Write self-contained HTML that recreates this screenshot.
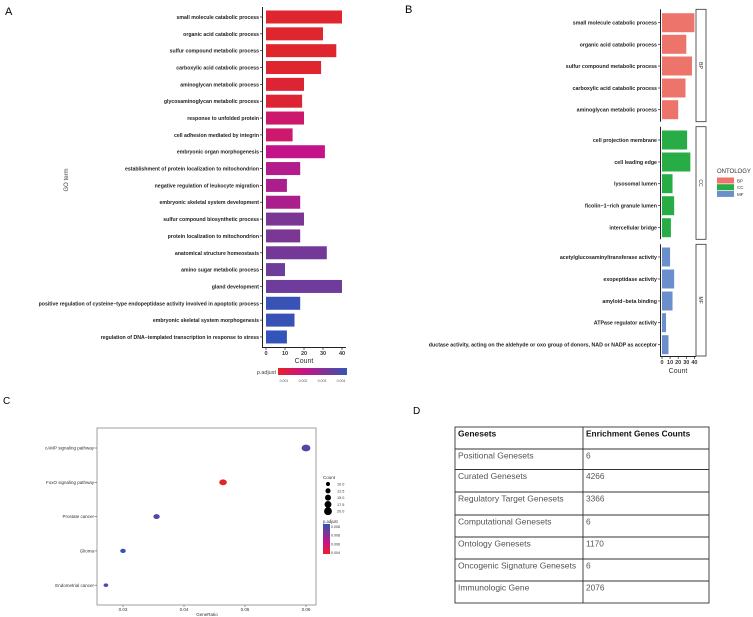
<!DOCTYPE html>
<html><head><meta charset="utf-8"><style>
html,body{margin:0;padding:0;background:#fff;}
svg{display:block;font-family:"Liberation Sans",Arial,sans-serif;}
</style></head><body>
<svg id="fig" width="753" height="617" viewBox="0 0 753 617" xmlns="http://www.w3.org/2000/svg">
<defs>
<linearGradient id="gradA" x1="0" x2="1" y1="0" y2="0"><stop offset="0" stop-color="#e8212a"/><stop offset="0.4" stop-color="#c4138a"/><stop offset="0.7" stop-color="#7a3794"/><stop offset="1" stop-color="#3354b8"/></linearGradient>
<linearGradient id="gradC" x1="0" x2="0" y1="1" y2="0"><stop offset="0" stop-color="#e8212a"/><stop offset="0.4" stop-color="#c4138a"/><stop offset="0.7" stop-color="#7a3794"/><stop offset="1" stop-color="#3354b8"/></linearGradient>
</defs>
<g id="pA"></g>
<g id="pB"></g>
<g id="pC"></g>
<g id="pD"></g>
</svg>
<script>
const aTerms=["small molecule catabolic process","organic acid catabolic process","sulfur compound metabolic process","carboxylic acid catabolic process","aminoglycan metabolic process","glycosaminoglycan metabolic process","response to unfolded protein","cell adhesion mediated by integrin","embryonic organ morphogenesis","establishment of protein localization to mitochondrion","negative regulation of leukocyte migration","embryonic skeletal system development","sulfur compound biosynthetic process","protein localization to mitochondrion","anatomical structure homeostasis","amino sugar metabolic process","gland development","positive regulation of cysteine\u2212type endopeptidase activity involved in apoptotic process","embryonic skeletal system morphogenesis","regulation of DNA\u2212templated transcription in response to stress"];
const aCounts=[40,30,37,29,20,19,20,14,31,18,11,18,20,18,32,10,40,18,15,11];
const aPadj=[0.0001,0.0001,0.0001,0.0001,0.0002,0.0002,0.0011,0.0011,0.0016,0.0019,0.002,0.002,0.0028,0.0028,0.0029,0.003,0.003,0.0039,0.0039,0.004];
const aTicks=[0,10,20,30,40];
const aCbLabels=["0.001","0.002","0.003","0.004"];

const bTerms=["small molecule catabolic process","organic acid catabolic process","sulfur compound metabolic process","carboxylic acid catabolic process","aminoglycan metabolic process","cell projection membrane","cell leading edge","lysosomal lumen","ficolin\u22121\u2212rich granule lumen","intercellular bridge","acetylglucosaminyltransferase activity","exopeptidase activity","amyloid\u2212beta binding","ATPase regulator activity","ductase activity, acting on the aldehyde or oxo group of donors, NAD or NADP as acceptor"];
const bCounts=[40,30,37,29,20,31,35,13,15,11,10,15,13,5,8];
const bGroup=["BP","BP","BP","BP","BP","CC","CC","CC","CC","CC","MF","MF","MF","MF","MF"];
const bTicks=[0,10,20,30,40];

const cTerms=["cAMP signaling pathway","FoxO signaling pathway","Prostate cancer","Glioma","Endometrial cancer"];
const cRatio=[0.06,0.0464,0.0355,0.030,0.0272];
const cCount=[20,17,14,12,10];
const cPadj=[0.0078,0.0035,0.0078,0.0085,0.0080];
const cTicks=[0.03,0.04,0.05,0.06];
const cTickLabels=["0.03","0.04","0.05","0.06"];
const cSizeLegend=[10,12.5,15,17.5,20];
const cPLegend=["0.008","0.008","0.006","0.004"];

const dHeader=["Genesets","Enrichment Genes Counts"];
const dNames=["Positional Genesets","Curated Genesets","Regulatory Target Genesets","Computational Genesets","Ontology Genesets","Oncogenic Signature Genesets","Immunologic Gene"];
const dValues=["6","4266","3366","6","1170","6","2076"];

const NS="http://www.w3.org/2000/svg";
function mk(p,tag,at,txt){const e=document.createElementNS(NS,tag);for(const k in at)e.setAttribute(k,at[k]);if(txt!==undefined)e.textContent=txt;p.appendChild(e);return e;}
const stops=[[0,[225,38,40]],[0.4,[196,19,138]],[0.7,[122,55,148]],[1,[51,84,184]]];
function grad(t){t=Math.max(0,Math.min(1,t));for(let i=1;i<stops.length;i++){if(t<=stops[i][0]){const a=stops[i-1],b=stops[i];const f=(t-a[0])/(b[0]-a[0]);const c=a[1].map((v,j)=>Math.round(v+(b[1][j]-v)*f));return `rgb(${c})`;}}return "rgb(51,84,184)";}

// Panel A
const A=document.getElementById('pA');
let t=mk(A,'text',{x:5,y:15,'font-size':11},"A");


const ax0=266,axs=1.9,ay0=17,ays=16.84;
const xA=v=>ax0+v*axs, yA=i=>ay0+i*ays;
let ln=mk(A,'line',{x1:262.5,y1:7,x2:262.5,y2:347,stroke:'#222','stroke-width':1});


ln=mk(A,'line',{x1:262,y1:347.5,x2:346,y2:347.5,stroke:'#222','stroke-width':1});


aTerms.forEach((name,i)=>{
  const r=mk(A,'rect',{x:xA(0),y:yA(i)-6.5,width:xA(aCounts[i])-xA(0),height:13,fill:grad(aPadj[i]/0.004)});
  
  
  mk(A,'line',{x1:260,x2:262.5,y1:yA(i),y2:yA(i),stroke:'#222','stroke-width':0.7});
  const l=mk(A,'text',{x:259,y:yA(i)+2,'font-size':5.2,'font-weight':'bold','text-anchor':'end',fill:'#222'},name);
  
  
});
aTicks.forEach(v=>{
  mk(A,'line',{x1:xA(v),x2:xA(v),y1:347.5,y2:350,stroke:'#222','stroke-width':0.7});
  const l=mk(A,'text',{x:xA(v),y:355,'font-size':5.5,'font-weight':'bold','text-anchor':'middle',fill:'#333'},v);
  
  
});
t=mk(A,'text',{x:304,y:363,'font-size':7,'text-anchor':'middle',fill:'#333'},"Count");


t=mk(A,'text',{x:0,y:0,'font-size':6,'text-anchor':'middle',fill:'#444',transform:'translate(68,180) rotate(-90)'},"GO term");


t=mk(A,'text',{x:276,y:374,'font-size':5.5,'text-anchor':'end',fill:'#444'},"p.adjust");


let cb=mk(A,'rect',{x:278,y:368,width:69,height:7,fill:'url(#gradA)'});


aCbLabels.forEach((s,i)=>{const l=mk(A,'text',{x:284+i*19,y:382,'font-size':3.5,'text-anchor':'middle',fill:'#555'},s);

});

// Panel B
const B=document.getElementById('pB');
t=mk(B,'text',{x:405,y:13,'font-size':11},"B");


const bx0=662,bxs=0.81;
const xB=v=>bx0+v*bxs;
const bY=[22.7,44.3,66,88,109.7,140,162,183.7,205.7,227.7,257,279,301,322.7,344.7];
const facets=[["BP",9.3,121.7],["CC",126.7,239.3],["MF",244.3,356]];
const bCol={BP:"#ec746a",CC:"#28ac45",MF:"#6a8fcc"};
facets.forEach(f=>{
  mk(B,'line',{x1:660.5,x2:660.5,y1:f[1],y2:f[2],stroke:'#222','stroke-width':1});
  const s=mk(B,'rect',{x:696,y:f[1],width:10,height:f[2]-f[1],fill:'#fff',stroke:'#333','stroke-width':0.8});
  
  
  mk(B,'text',{x:0,y:0,'font-size':5,'text-anchor':'middle',fill:'#333',transform:`translate(699,${(f[1]+f[2])/2}) rotate(90)`},f[0]);
});
bTerms.forEach((name,i)=>{
  const r=mk(B,'rect',{x:xB(0),y:bY[i]-9.5,width:xB(bCounts[i])-xB(0),height:19,fill:bCol[bGroup[i]]});
  
  
  mk(B,'line',{x1:658,x2:660.5,y1:bY[i],y2:bY[i],stroke:'#222','stroke-width':0.7});
  const l=mk(B,'text',{x:657,y:bY[i]+2,'font-size':5.3,'font-weight':'bold','text-anchor':'end',fill:'#222'},name);
  
  
});
mk(B,'line',{x1:660,x2:696,y1:356.5,y2:356.5,stroke:'#222','stroke-width':1});
bTicks.forEach(v=>{
  mk(B,'line',{x1:xB(v),x2:xB(v),y1:356.5,y2:359,stroke:'#222','stroke-width':0.7});
  const l=mk(B,'text',{x:xB(v),y:364,'font-size':5.5,'font-weight':'bold','text-anchor':'middle',fill:'#333'},v);
  
  
});
t=mk(B,'text',{x:678,y:373,'font-size':7,'text-anchor':'middle',fill:'#333'},"Count");


t=mk(B,'text',{x:717,y:173,'font-size':6,fill:'#333'},"ONTOLOGY");


["BP","CC","MF"].forEach((g,i)=>{
  const r=mk(B,'rect',{x:717,y:177.5+i*6.7,width:17,height:6,fill:bCol[g]});
  
  
  const l=mk(B,'text',{x:737,y:182.5+i*6.7,'font-size':4.5,fill:'#333'},g);
  
  
});

// Panel C
const C=document.getElementById('pC');
t=mk(C,'text',{x:3,y:404,'font-size':10},"C");


const cx0=97,cx1=316,cy0=428,cy1=605;
const xC=v=>123+(v-0.03)*(306-123)/0.03;
const yC=i=>448+i*34.3;
const rC=c=>1.8+(c-10)*0.16;
const pC=p=>(p-0.0035)/0.005;
let box=mk(C,'rect',{x:cx0,y:cy0,width:cx1-cx0,height:cy1-cy0,fill:'#fff',stroke:'#888','stroke-width':0.8});


cTerms.forEach((name,i)=>{
  mk(C,'line',{x1:94.5,x2:97,y1:yC(i),y2:yC(i),stroke:'#555','stroke-width':0.6});
  const l=mk(C,'text',{x:94,y:yC(i)+1.6,'font-size':4.5,'text-anchor':'end',fill:'#333'},name);
  
  
  const d=mk(C,'ellipse',{cx:xC(cRatio[i]),cy:yC(i),rx:rC(cCount[i])*1.3,ry:rC(cCount[i]),fill:grad(pC(cPadj[i]))});
  
  
});
cTicks.forEach((v,i)=>{
  mk(C,'line',{x1:xC(v),x2:xC(v),y1:605,y2:607,stroke:'#555','stroke-width':0.6});
  const l=mk(C,'text',{x:xC(v),y:611,'font-size':4.5,'text-anchor':'middle',fill:'#333'},cTickLabels[i]);
  
  
});
t=mk(C,'text',{x:207,y:616,'font-size':4.5,'text-anchor':'middle',fill:'#333'},"GeneRatio");


t=mk(C,'text',{x:323,y:479,'font-size':4.5,fill:'#333'},"Count");


cSizeLegend.forEach((c,i)=>{
  const y=484+i*6.8;
  const d=mk(C,'circle',{cx:328,cy:y,r:rC(c)*1.15,fill:'#000'});
  
  
  const l=mk(C,'text',{x:337,y:y+1.5,'font-size':3.8,fill:'#333'},c.toFixed(1));
  
  
});
t=mk(C,'text',{x:323,y:523,'font-size':4.2,fill:'#333'},"p.adjust");


cb=mk(C,'rect',{x:323,y:524,width:7,height:30,fill:'url(#gradC)'});


cPLegend.forEach((s,i)=>{const l=mk(C,'text',{x:331,y:528+i*8.7,'font-size':3.6,fill:'#333'},s);

});

// Panel D
const D=document.getElementById('pD');
t=mk(D,'text',{x:413,y:414,'font-size':10},"D");


const tx0=455,tx1=709,tc=583;
const rowY=[427,449,469.5,492,515,537,559,581,603];
const rows=[dHeader].concat(dNames.map((n,i)=>[n,dValues[i]]));
let tb=mk(D,'rect',{x:tx0,y:rowY[0],width:tx1-tx0,height:rowY[8]-rowY[0],fill:'#fff',stroke:'#333','stroke-width':0.9});


mk(D,'line',{x1:tc,x2:tc,y1:rowY[0],y2:rowY[8],stroke:'#333','stroke-width':0.9});
rows.forEach((r,i)=>{
  if(i>0)mk(D,'line',{x1:tx0,x2:tx1,y1:rowY[i],y2:rowY[i],stroke:'#333','stroke-width':0.9});
  const bold=i===0;
  const a=mk(D,'text',{x:tx0+3,y:rowY[i]+9.5,'font-size':8.5,'font-weight':bold?'bold':'normal',fill:bold?'#111':'#555'},r[0]);
  
  
  const b=mk(D,'text',{x:tc+3,y:rowY[i]+9.5,'font-size':8.3,'font-weight':bold?'bold':'normal',fill:bold?'#111':'#555'},r[1]);
  
  
});
</script>
</body></html>
